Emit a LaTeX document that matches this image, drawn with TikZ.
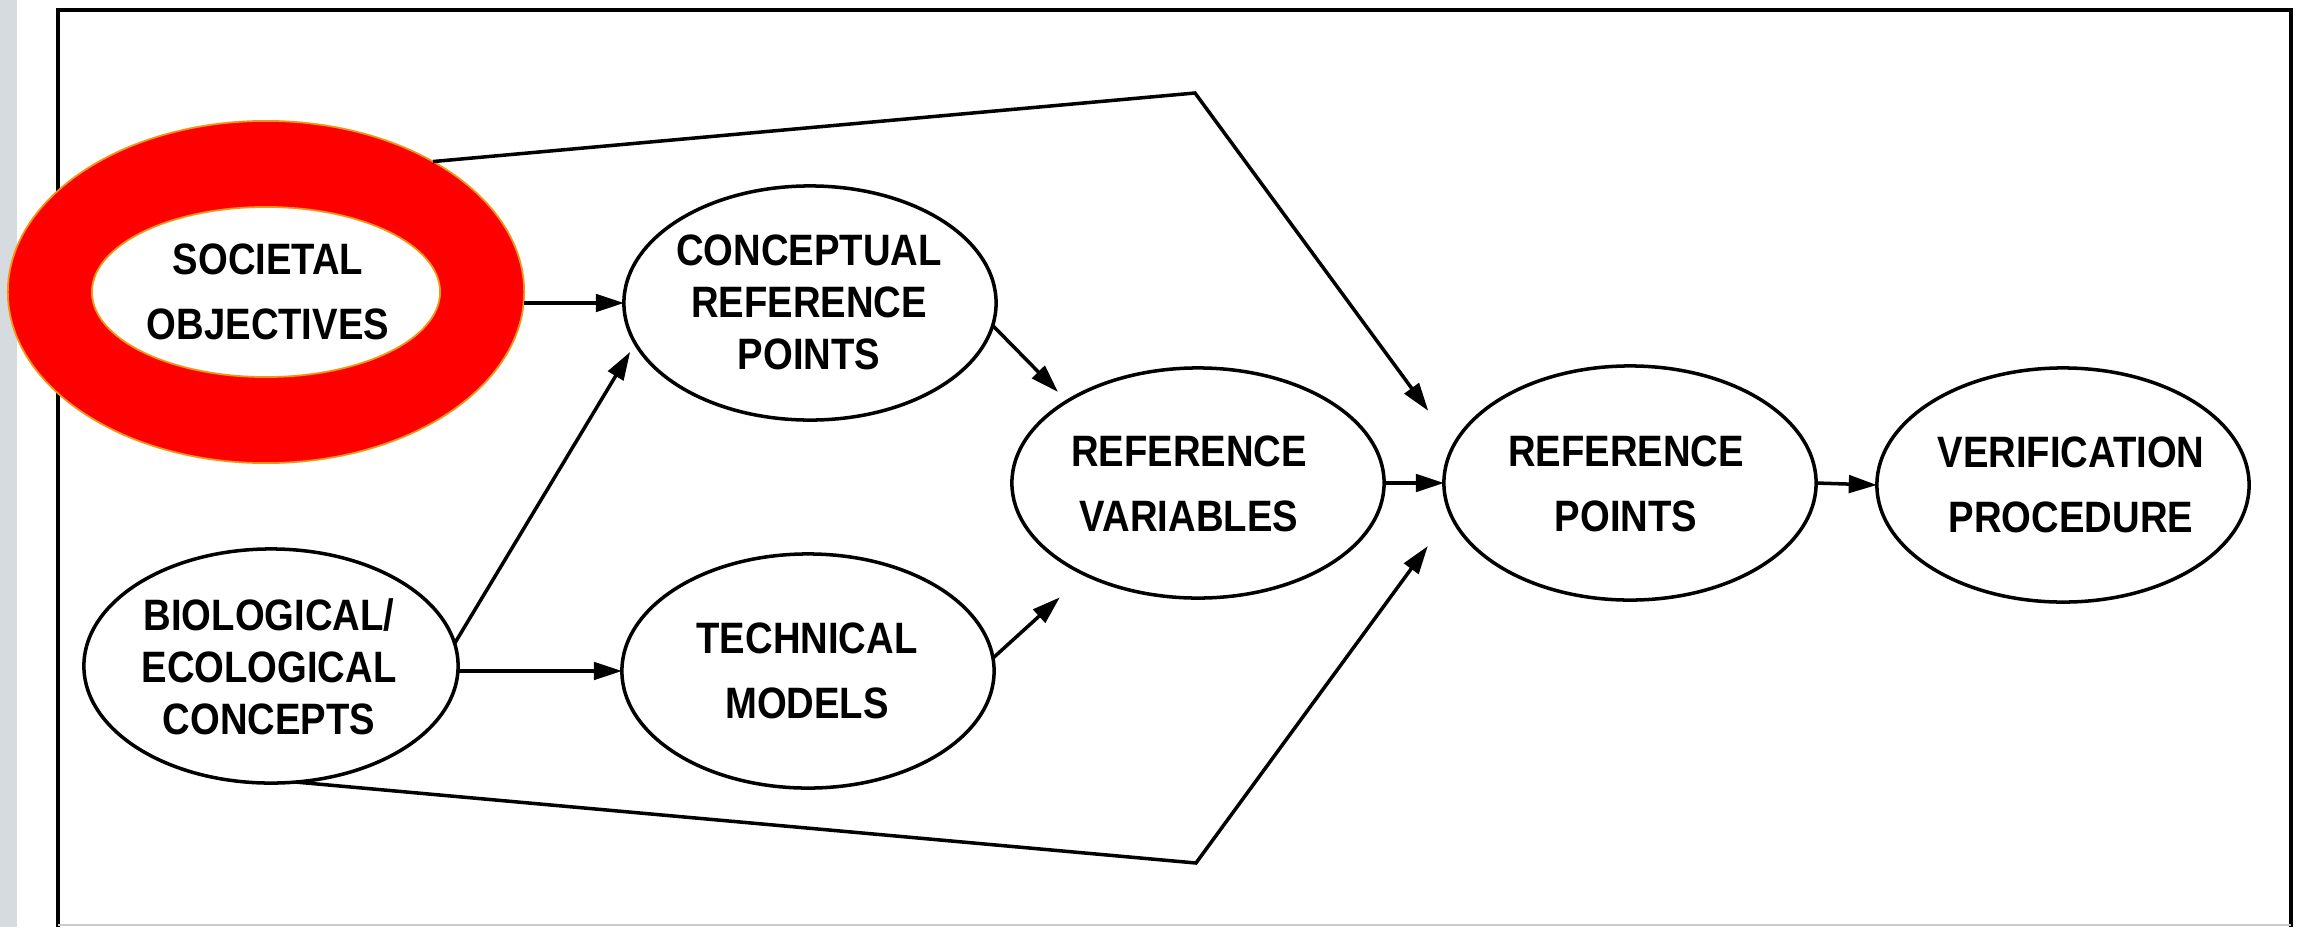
\documentclass[tikz,border=0pt]{standalone}
\usepackage{fontspec}
\usetikzlibrary{shapes.geometric,arrows.meta}
\newfontfamily\lblfont{Liberation Sans Bold}[FakeStretch=0.87]
\definecolor{ringred}{RGB}{255,0,0}
\definecolor{ringedge}{RGB}{240,150,20}
\definecolor{stripgrey}{RGB}{214,219,224}

\begin{document}
\begin{tikzpicture}[x=0.01cm,y=-0.01cm,
  oval/.style={ellipse, draw=black, line width=1pt, inner sep=0pt, outer sep=0pt,
               minimum width=3.72cm, minimum height=2.34cm},
  lbltwo/.style={align=center, inner sep=0pt, font=\lblfont\fontsize{12.5}{18.5}\selectfont},
  lblthree/.style={align=center, inner sep=0pt, font=\lblfont\fontsize{12.5}{14.8}\selectfont},
  link/.style={line width=1pt, -{Triangle[length=8pt,width=5pt]}},
  frameline/.style={line width=1pt}]

\useasboundingbox (0,0) rectangle (2306,927);
\fill[white] (0,0) rectangle (2306,927);
\fill[stripgrey] (0,0) rectangle (17,927);

% outer frame
\draw[frameline] (58,927) -- (58,10) -- (2291,10) -- (2291,927);
\draw[gray!40, line width=0.4pt] (58,925) -- (2291,925);

% highlighted start node
\node[ellipse, minimum width=5.16cm, minimum height=3.42cm, inner sep=0pt, outer sep=0pt,
      fill=ringred, draw=ringedge, line width=0.5pt] (so) at (266,292) {};
\node[ellipse, minimum width=3.48cm, minimum height=1.70cm, inner sep=0pt,
      fill=white, draw=ringedge, line width=0.5pt] (so-in) at (266,292) {};
\node[lbltwo] (so-t) at (268,292) {SOCIETAL\\OBJECTIVES};

% the other stages
\node[oval] (crp) at (810,303) {};
\node[lblthree] (crp-t) at (809,302) {CONCEPTUAL\\REFERENCE\\POINTS};
\node[oval, minimum width=3.74cm] (bio) at (271,666) {};
\node[lblthree] (bio-t) at (269,667) {BIOLOGICAL/\\ECOLOGICAL\\CONCEPTS};
\node[oval] (tm) at (808,671) {};
\node[lbltwo] (tm-t) at (807,671) {TECHNICAL\\MODELS};
\node[oval, minimum height=2.30cm] (rv) at (1198,483) {};
\node[lbltwo] (rv-t) at (1189,484) {REFERENCE\\VARIABLES};
\node[oval] (rp) at (1630,483) {};
\node[lbltwo] (rp-t) at (1626,484) {REFERENCE\\POINTS};
\node[oval] (vp) at (2063,485) {};
\node[lbltwo] (vp-t) at (2071,485) {VERIFICATION\\PROCEDURE};

% bends of the two long connectors
\coordinate (tc) at (1195,93);
\coordinate (bc) at (1196,863);

% connectors
\draw[link] (so.east |- crp.west) -- (crp.west);
\draw[link, shorten >=0.10cm] (bio.7) -- (crp.193);
\draw[link] (bio.east |- tm.west) -- (tm.west);
\draw[link, shorten >=0.13cm] (crp.-7) -- (rv.148);
\draw[link, shorten >=0.34cm] (tm.4) -- (rv.219);
\draw[link] (rv.east) -- (rp.west);
\draw[link] (rp.east) -- (vp.west);
\draw[link, shorten >=0.43cm] (so.38) -- (tc) -- (rp.168);
\draw[link, shorten >=0.39cm] (bio.-78) -- (bc) -- (rp.190);
\end{tikzpicture}
\end{document}
